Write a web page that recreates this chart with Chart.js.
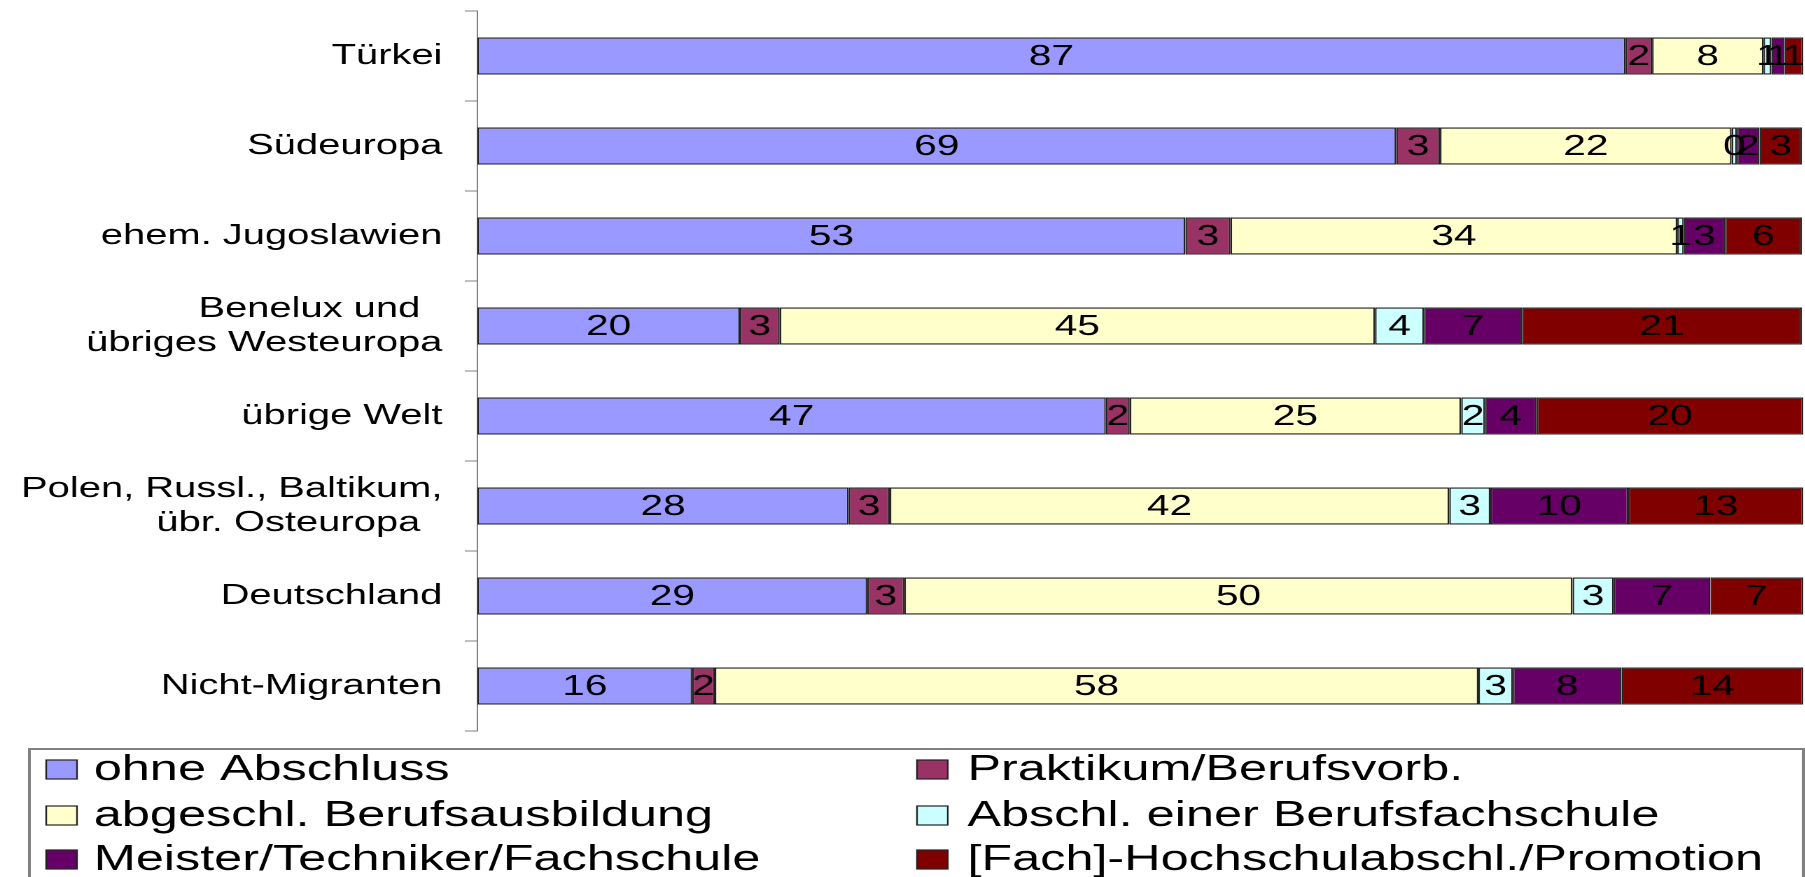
<!DOCTYPE html>
<html>
<head>
<meta charset="utf-8">
<script src="https://cdn.jsdelivr.net/npm/chart.js@4/dist/chart.umd.min.js"></script>
<style>
  body { margin: 0; background: #fff; overflow: hidden; }
  #c { transform: scaleX(1.4); transform-origin: 0 0; display: block; }
</style>
</head>
<body>
<canvas id="c" width="1289" height="877"></canvas>
<script>
// herkunft groups, top to bottom
const categories = ['Türkei', 'Südeuropa', 'ehem. Jugoslawien', ['Benelux und  ', 'übriges Westeuropa'],
  'übrige Welt', ['Polen, Russl., Baltikum,', 'übr. Osteuropa  '], 'Deutschland', 'Nicht-Migranten'];

const seriesNames = ['ohne Abschluss', 'Praktikum/Berufsvorb.', 'abgeschl. Berufsausbildung',
  'Abschl. einer Berufsfachschule', 'Meister/Techniker/Fachschule', '[Fach]-Hochschulabschl./Promotion'];
const seriesColors = ['#9999ff', '#993366', '#ffffcc', '#ccffff', '#660066', '#800000'];

// percent
const ohneAbschluss    = [86.6, 69.3, 53.4, 19.8, 47.4, 28.0, 29.4, 16.2];
const praktikum        = [2.0, 3.3, 3.4, 3.0, 1.8, 3.1, 2.8, 1.7];
const berufsausbildung = [8.4, 22.0, 33.7, 44.9, 25.0, 42.2, 50.4, 57.6];
const berufsfachschule = [0.6, 0.4, 0.5, 3.7, 1.8, 3.1, 3.1, 2.6];
const meister          = [1.0, 1.7, 3.1, 7.4, 3.9, 10.4, 7.3, 8.2];
const hochschule       = [1.4, 3.2, 5.8, 21.1, 20.1, 13.2, 7.0, 13.7];

const seriesValues = [ohneAbschluss, praktikum, berufsausbildung, berufsfachschule, meister, hochschule];

const font = 'Liberation Sans, Arial, sans-serif';

const barLabels = {
  id: 'barLabels',
  afterDatasetsDraw(chart) {
    const ctx = chart.ctx;
    ctx.save();
    ctx.font = '29px ' + font;
    ctx.fillStyle = '#000';
    ctx.textAlign = 'center';
    ctx.textBaseline = 'middle';
    chart.data.datasets.forEach((ds, i) => {
      chart.getDatasetMeta(i).data.forEach((bar, j) => {
        ctx.fillText(Math.round(ds.data[j]), (bar.x + bar.base) / 2, bar.y + 1);
      });
    });
    ctx.restore();
  }
};

const boxLegend = {
  id: 'boxLegend',
  afterDraw(chart) {
    const ctx = chart.ctx;
    ctx.save();
    ctx.strokeStyle = '#808080';
    ctx.lineWidth = 2;
    ctx.strokeRect(21, 749, 1267, 200);
    ctx.font = '36px ' + font;
    ctx.textBaseline = 'middle';
    const rows = [769, 815, 859];
    const boxX = [33, 655], textX = [67, 691];
    seriesNames.forEach((name, i) => {
      const col = i % 2, y = rows[Math.floor(i / 2)];
      ctx.fillStyle = seriesColors[i];
      ctx.fillRect(boxX[col], y - 9, 22, 19);
      ctx.strokeStyle = '#222';
      ctx.lineWidth = 1.2;
      ctx.strokeRect(boxX[col], y - 9, 22, 19);
      ctx.fillStyle = '#000';
      ctx.fillText(name, textX[col], y + 1);
    });
    ctx.restore();
  }
};

new Chart(document.getElementById('c').getContext('2d'), {
  type: 'bar',
  data: {
    labels: categories,
    datasets: seriesNames.map((name, i) => ({
      label: name,
      data: seriesValues[i],
      backgroundColor: seriesColors[i],
      borderColor: '#222',
      borderWidth: 1.2,
      borderSkipped: false,
      barPercentage: 0.41,
      categoryPercentage: 1
    }))
  },
  options: {
    indexAxis: 'y',
    responsive: false,
    devicePixelRatio: 2,
    animation: false,
    layout: { padding: { top: 11, bottom: 146, left: 0, right: 1 } },
    plugins: { legend: { display: false }, tooltip: { enabled: false } },
    scales: {
      x: { stacked: true, min: 0, max: 100, display: false },
      y: {
        stacked: true,
        afterFit(scale) {
          scale.width = 341;
          scale.paddingTop = 0;
          scale.paddingBottom = 0;
        },
        border: { display: true, color: '#808080', width: 1 },
        grid: { offset: true, drawOnChartArea: false, drawTicks: true, tickLength: 9, color: '#808080' },
        ticks: { font: { family: font, size: 28.5 }, color: '#000', padding: 16 }
      }
    }
  },
  plugins: [barLabels, boxLegend]
});
</script>
</body>
</html>
